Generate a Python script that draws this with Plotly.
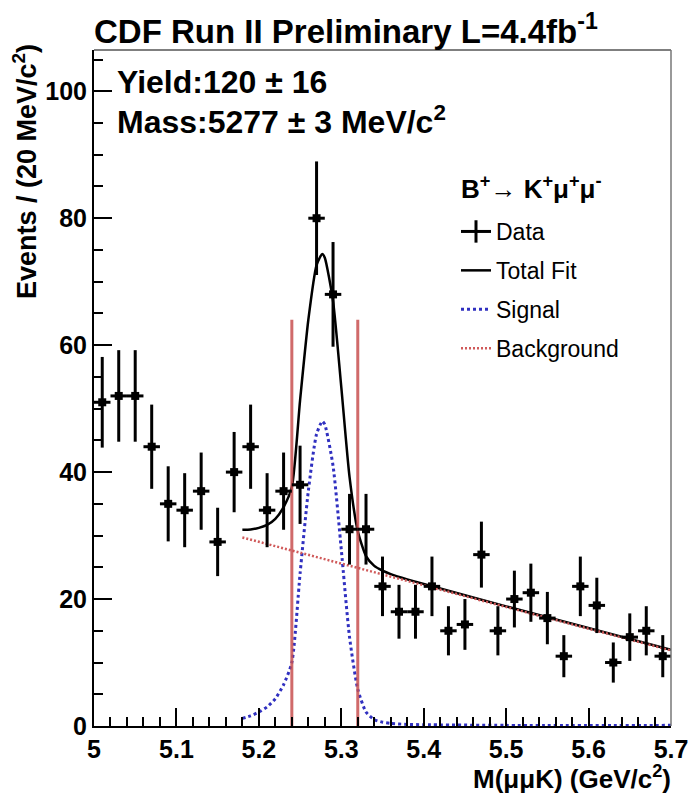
import numpy as np
import plotly.graph_objects as go

# ---------------- data ----------------
mass_bins = [5.01, 5.03, 5.05, 5.07, 5.09, 5.11, 5.13, 5.15, 5.17, 5.19,
             5.21, 5.23, 5.25, 5.27, 5.29, 5.31, 5.33, 5.35, 5.37, 5.39,
             5.41, 5.43, 5.45, 5.47, 5.49, 5.51, 5.53, 5.55, 5.57, 5.59,
             5.61, 5.63, 5.65, 5.67, 5.69]
counts = [51, 52, 52, 44, 35, 34, 37, 29, 40, 44,
          34, 37, 38, 80, 68, 31, 31, 22, 18, 18,
          22, 15, 16, 27, 15, 20, 21, 17, 11, 22,
          19, 10, 14, 15, 11]
bin_half_width = 0.01

# fitted signal shape (events / 20 MeV)
signal_mass = [5.18, 5.19, 5.20, 5.21, 5.22, 5.23, 5.24, 5.25, 5.26, 5.27,
               5.277, 5.28, 5.29, 5.30, 5.31, 5.32, 5.33, 5.34, 5.35, 5.36,
               5.38, 5.40, 5.50, 5.70]
signal_fit = [1.2, 1.6, 2.2, 3.0, 4.3, 6.5, 10.0, 24.0, 37.0, 46.0,
              48.0, 47.5, 41.0, 27.8, 14.0, 5.8, 2.2, 1.0, 0.6, 0.4,
              0.25, 0.2, 0.1, 0.1]

# linear background fit (end points of the dotted red line)
bkg_mass = [5.18, 5.70]
bkg_fit = [29.7, 11.9]

# signal-window cut lines
cut_mass = [5.24, 5.32]
cut_top = 64

x_tickvals = [5.0, 5.1, 5.2, 5.3, 5.4, 5.5, 5.6, 5.7]
x_ticktext = ["5", "5.1", "5.2", "5.3", "5.4", "5.5", "5.6", "5.7"]
y_tickvals = [0, 20, 40, 60, 80, 100]

# ---------------- derived ----------------
counts_err = np.sqrt(np.array(counts, dtype=float))
bkg_at_nodes = np.interp(signal_mass, bkg_mass, bkg_fit)
total_fit = np.array(signal_fit) + bkg_at_nodes

FONT = "Liberation Sans"
W, H = 691, 795
L, R, T, B = 94, 20, 50, 69


def px(xp):
    return (xp - L) / (W - L - R)


def py(yp):
    return (H - B - yp) / (H - T - B)


fig = go.Figure()

# legend-only marker for the data (cross)
fig.add_trace(go.Scatter(
    x=[None], y=[None], mode="lines+markers", name="Data",
    legendgroup="g1",
    line=dict(color="black", width=3),
    marker=dict(symbol="line-ns-open", size=16, color="black",
                line=dict(color="black", width=3)),
))

fig.add_trace(go.Scatter(
    x=signal_mass, y=total_fit, mode="lines", name="Total Fit",
    legendgroup="g2",
    line=dict(color="black", width=2.5, shape="spline", smoothing=0.6),
))

fig.add_trace(go.Scatter(
    x=signal_mass, y=signal_fit, mode="lines", name="Signal",
    legendgroup="g3",
    line=dict(color="#3030c0", width=3, dash="3px,3px", shape="spline",
              smoothing=0.6),
))

fig.add_trace(go.Scatter(
    x=bkg_mass, y=bkg_fit, mode="lines", name="Background",
    legendgroup="g4",
    line=dict(color="#d05a5a", width=2.5, dash="2px,2px"),
))

for c in cut_mass:
    fig.add_trace(go.Scatter(
        x=[c, c], y=[0, cut_top], mode="lines", showlegend=False,
        line=dict(color="rgba(200,80,80,0.85)", width=3),
        hoverinfo="skip",
    ))

fig.add_trace(go.Scatter(
    x=mass_bins, y=counts, mode="markers", showlegend=False, name="Data",
    marker=dict(symbol="square", size=8, color="black"),
    error_y=dict(type="data", array=counts_err, thickness=3, width=0,
                 color="black"),
    error_x=dict(type="constant", value=bin_half_width, thickness=3, width=0,
                 color="black"),
))

tickfont = dict(family=FONT, size=25, color="black", weight="bold")

fig.update_layout(
    width=W, height=H,
    margin=dict(l=L, r=R, t=T, b=B, pad=0, autoexpand=False),
    paper_bgcolor="white", plot_bgcolor="white",
    showlegend=True,
    legend=dict(
        x=px(456), y=py(210), xanchor="left", yanchor="top",
        font=dict(family=FONT, size=23, color="black"),
        bgcolor="rgba(0,0,0,0)", borderwidth=0,
        traceorder="grouped", tracegroupgap=6,
        itemwidth=30,
    ),
    xaxis=dict(
        range=[5.0, 5.7], showgrid=False, zeroline=False, automargin=False,
        showline=True, linecolor="black", linewidth=2,
        ticks="inside", ticklen=18, tickwidth=1.5, tickcolor="black",
        tickvals=x_tickvals, ticktext=x_ticktext, tickfont=tickfont,
        minor=dict(dtick=0.02, tick0=5.0, ticks="inside", ticklen=9,
                   tickwidth=1.5, tickcolor="black", showgrid=False),
    ),
    yaxis=dict(
        range=[0, 106.5], showgrid=False, zeroline=False, automargin=False,
        showline=True, linecolor="black", linewidth=2,
        ticks="inside", ticklen=18, tickwidth=1.5, tickcolor="black",
        tickvals=y_tickvals, tickfont=tickfont,
        minor=dict(dtick=5, tick0=0, ticks="inside", ticklen=9,
                   tickwidth=1.5, tickcolor="black", showgrid=False),
    ),
    shapes=[
        dict(type="line", xref="paper", yref="paper", x0=0, x1=1, y0=1, y1=1,
             line=dict(color="#555555", width=1.5)),
        dict(type="line", xref="paper", yref="paper", x0=1, x1=1, y0=0, y1=1,
             line=dict(color="#777777", width=1.5)),
    ],
)

annotations = [
    dict(text="<b>CDF Run II Preliminary L=4.4fb<sup>-1</sup></b>",
         x=px(92), y=py(29), xanchor="left", yanchor="middle",
         font=dict(family=FONT, size=33, color="black")),
    dict(text="<b>Yield:120 ± 16</b>",
         x=px(115), y=py(82), xanchor="left", yanchor="middle",
         font=dict(family=FONT, size=32, color="black")),
    dict(text="<b>Mass:5277 ± 3 MeV/c<sup>2</sup></b>",
         x=px(115), y=py(120), xanchor="left", yanchor="middle",
         font=dict(family=FONT, size=32, color="black")),
    dict(text="<b>B<sup>+</sup>→ K<sup>+</sup>μ<sup>+</sup>μ<sup>-</sup></b>",
         x=px(459), y=py(187), xanchor="left", yanchor="middle",
         font=dict(family=FONT, size=26, color="black")),
    dict(text="<b>Events / (20 MeV/c<sup>2</sup>)</b>",
         x=px(25), y=py(172), xanchor="center", yanchor="middle",
         textangle=-90,
         font=dict(family=FONT, size=27, color="black")),
    dict(text="<b>M(μμK) (GeV/c<sup>2</sup>)</b>",
         x=px(673), y=py(777.5), xanchor="right", yanchor="middle",
         font=dict(family=FONT, size=26, color="black")),
]
for a in annotations:
    a.update(xref="paper", yref="paper", showarrow=False)
fig.update_layout(annotations=annotations)

fig.write_html("out.html")
